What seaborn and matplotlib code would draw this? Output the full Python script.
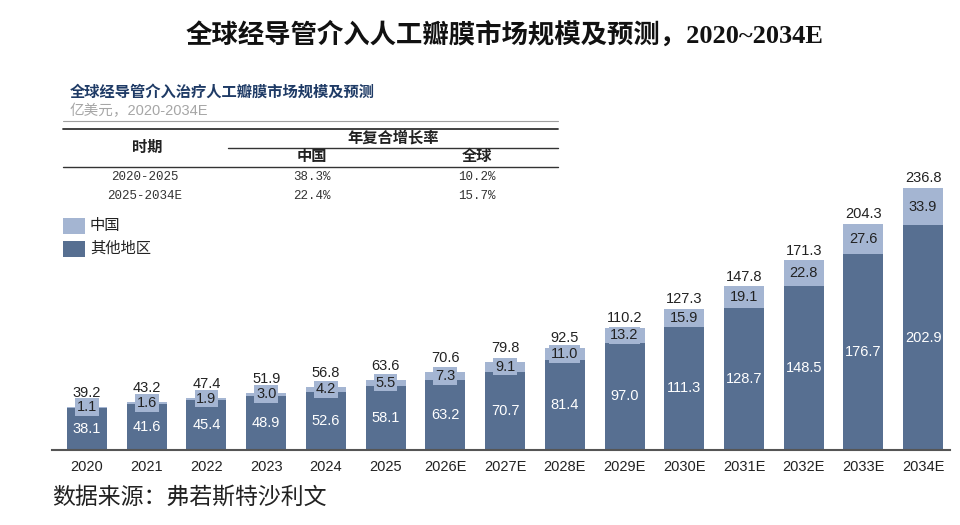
import matplotlib
matplotlib.use('Agg')
import matplotlib.pyplot as plt
import numpy as np
import pandas as pd
import seaborn as sns
from matplotlib.lines import Line2D
from matplotlib.patches import Rectangle

years = ['2020', '2021', '2022', '2023', '2024', '2025', '2026E', '2027E', '2028E',
         '2029E', '2030E', '2031E', '2032E', '2033E', '2034E']
other = [38.1, 41.6, 45.4, 48.9, 52.6, 58.1, 63.2, 70.7, 81.4, 97.0, 111.3, 128.7, 148.5, 176.7, 202.9]
china = [1.1, 1.6, 1.9, 3.0, 4.2, 5.5, 7.3, 9.1, 11.0, 13.2, 15.9, 19.1, 22.8, 27.6, 33.9]
total = [39.2, 43.2, 47.4, 51.9, 56.8, 63.6, 70.6, 79.8, 92.5, 110.2, 127.3, 147.8, 171.3, 204.3, 236.8]

periods = ['2020-2025', '2025-2034E']
cagr_china = ['38.3%', '22.4%']
cagr_global = ['10.2%', '15.7%']

df = pd.DataFrame({'year': years, 'other': other, 'china': china, 'total': total})

sns.set_style('white')
plt.rcParams['font.family'] = ['Liberation Sans', 'Noto Sans CJK SC']

DARK = '#576f91'
LIGHT = '#a4b5d2'
W, H = 960, 525

fig = plt.figure(figsize=(9.6, 5.25), dpi=100)
fig.patch.set_facecolor('white')


def px(x, y):
    return x / W, 1 - y / H


# main axes: baseline at y=450px
ax = fig.add_axes([52 / W, 75 / H, (950 - 52) / W, 332 / H])
sns.barplot(data=df, x='year', y='total', color=LIGHT, width=0.67, ax=ax,
            saturation=1, edgecolor='none')
sns.barplot(data=df, x='year', y='other', color=DARK, width=0.67, ax=ax,
            saturation=1, edgecolor='none')
ax.set_ylim(0, 300)
ax.set_xlim(-0.586, 14.45)
ax.set_xlabel('')
ax.set_ylabel('')
ax.set_yticks([])
for s in ['left', 'right', 'top']:
    ax.spines[s].set_visible(False)
ax.spines['bottom'].set_color('#555555')
ax.spines['bottom'].set_linewidth(1.5)
ax.tick_params(axis='x', length=0, labelsize=10.5, labelcolor='#222222', pad=7)

for i in range(len(years)):
    ax.text(i, other[i] / 2, f'{other[i]:.1f}', ha='center', va='center',
            color='white', fontsize=10.5)
    ax.text(i, other[i] + china[i] / 2, f'{china[i]:.1f}', ha='center', va='center',
            color='#222222', fontsize=10.5,
            bbox=dict(boxstyle='square,pad=0.12', facecolor=LIGHT, edgecolor='none'))
    off = 7 if china[i] >= 10 else 10
    ax.annotate(f'{total[i]:.1f}', (i, total[i]), xytext=(0, off), textcoords='offset points',
                ha='center', va='center', color='#222222', fontsize=10.5)

# titles
fig.text(*px(505, 35), '全球经导管介入人工瓣膜市场规模及预测，2020~2034E', ha='center', va='center',
         fontsize=19, fontweight='bold', color='#111111',
         family=['Liberation Serif', 'Noto Sans CJK SC'])
fig.text(*px(70, 92), '全球经导管介入治疗人工瓣膜市场规模及预测', ha='left', va='center',
         fontsize=11, fontweight='bold', color='#1f3b66')
fig.text(*px(70, 111), '亿美元，2020-2034E', ha='left', va='center',
         fontsize=10.5, color='#a6a6a6')

# table lines
fig.add_artist(Line2D([63 / W, 558 / W], [1 - 121 / H] * 2, color='#a0a0a0', lw=0.8))
fig.add_artist(Line2D([63 / W, 558 / W], [1 - 129 / H] * 2, color='#333333', lw=1.3))
fig.add_artist(Line2D([228 / W, 558 / W], [1 - 148 / H] * 2, color='#333333', lw=1.0))
fig.add_artist(Line2D([63 / W, 558 / W], [1 - 167 / H] * 2, color='#333333', lw=1.0))

fig.text(*px(393, 138), '年复合增长率', ha='center', va='center', fontsize=11,
         fontweight='bold', color='#222222')
fig.text(*px(147, 148), '时期', ha='center', va='center', fontsize=11,
         fontweight='bold', color='#222222')
fig.text(*px(312, 157), '中国', ha='center', va='center', fontsize=11,
         fontweight='bold', color='#222222')
fig.text(*px(477, 157), '全球', ha='center', va='center', fontsize=11,
         fontweight='bold', color='#222222')
mono = ['Liberation Mono', 'Noto Sans CJK SC']
for k, yy in enumerate([177, 196]):
    fig.text(*px(145, yy), periods[k], ha='center', va='center', fontsize=9,
             color='#333333', family=mono)
    fig.text(*px(312, yy), cagr_china[k], ha='center', va='center', fontsize=9,
             color='#333333', family=mono)
    fig.text(*px(477, yy), cagr_global[k], ha='center', va='center', fontsize=9,
             color='#333333', family=mono)

# legend
for yy, col, lab in [(218, LIGHT, '中国'), (241, DARK, '其他地区')]:
    fig.add_artist(Rectangle((63 / W, 1 - (yy + 16) / H), 22 / W, 16 / H,
                             facecolor=col, edgecolor='none', transform=fig.transFigure))
    fig.text(*px(90, yy + 8), lab, ha='left', va='center', fontsize=11, color='#222222')

# source
fig.text(*px(52, 497), '数据来源：弗若斯特沙利文', ha='left', va='center',
         fontsize=16.5, color='#222222')

fig.savefig('out.png', dpi=100, facecolor='white')
